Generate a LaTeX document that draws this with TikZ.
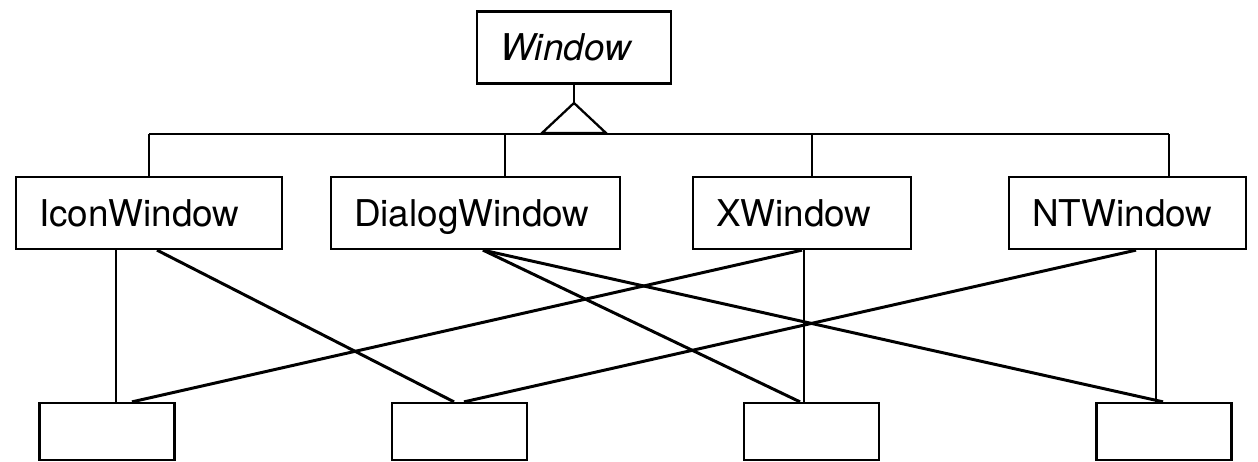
\documentclass[tikz,border=0pt]{standalone}
\usepackage{fontspec}
\setmainfont{TeX Gyre Heros}
\usetikzlibrary{positioning,calc}
\tikzset{
  cls/.style={draw, line width=1.3pt, inner xsep=0.46cm, minimum height=1.44cm,
    text width=#1, align=left, text height=15pt, text depth=0pt,
    font=\fontsize{21}{25}\selectfont},
  impl/.style={draw, line width=1.3pt, minimum width=2.7cm, minimum height=1.14cm},
  thinline/.style={line width=1pt},
  link/.style={line width=1.7pt},
}

\begin{document}
\begin{tikzpicture}[x=0.02cm,y=-0.02cm]
  \useasboundingbox (0,0) rectangle (1258,462);
  \node[cls=2.96cm, font=\fontsize{21}{25}\selectfont\itshape] (Window) at (574,47.5) {Window};
  \node[cls=4.4cm] (IconWindow) at (149,213) {IconWindow};
  \node[cls=4.86cm] (DialogWindow) at (475.5,213) {DialogWindow};
  \node[cls=3.44cm] (XWindow) at (802,213) {XWindow};
  \node[cls=3.82cm] (NTWindow) at (1127.5,213) {NTWindow};
  \foreach \i/\x in {1/107,2/459.5,3/811.5,4/1164}
    \node[impl] (b\i) at (\x,431.5) {};

  \coordinate (apex) at (574,103);
  \coordinate (bus) at (574,134);
  \draw[thinline] (Window.south) -- (apex);
  \draw[line width=1.3pt] (apex) -- ++(-32,30) -- ++(64,0) -- cycle;
  \foreach \n/\s in {IconWindow/0,DialogWindow/0.59,XWindow/0.2,NTWindow/0.83}{
    \coordinate (\n-up) at ([xshift=\s cm]\n.north);
    \draw[thinline] (\n-up) -- (\n-up |- bus);
  }
  \draw[thinline] (IconWindow-up |- bus) -- (NTWindow-up |- bus);

  \draw[thinline] ([xshift=-0.66cm]IconWindow.south) -- ([xshift=0.18cm]b1.north);
  \draw[link] ([xshift=0.16cm]IconWindow.south) -- ([xshift=-0.11cm]b2.north);
  \draw[link] ([xshift=0.15cm]DialogWindow.south) -- ([xshift=-0.23cm]b3.north);
  \draw[link] ([xshift=0.15cm]DialogWindow.south) -- ([xshift=-0.02cm]b4.north);
  \draw[link] (XWindow.south) -- ([xshift=0.5cm]b1.north);
  \draw[thinline] ([xshift=0.04cm]XWindow.south) -- ([xshift=-0.15cm]b3.north);
  \draw[link] ([xshift=0.17cm]NTWindow.south) -- ([xshift=0.09cm]b2.north);
  \draw[thinline] ([xshift=0.57cm]NTWindow.south) -- ([xshift=-0.16cm]b4.north);
\end{tikzpicture}
\end{document}
